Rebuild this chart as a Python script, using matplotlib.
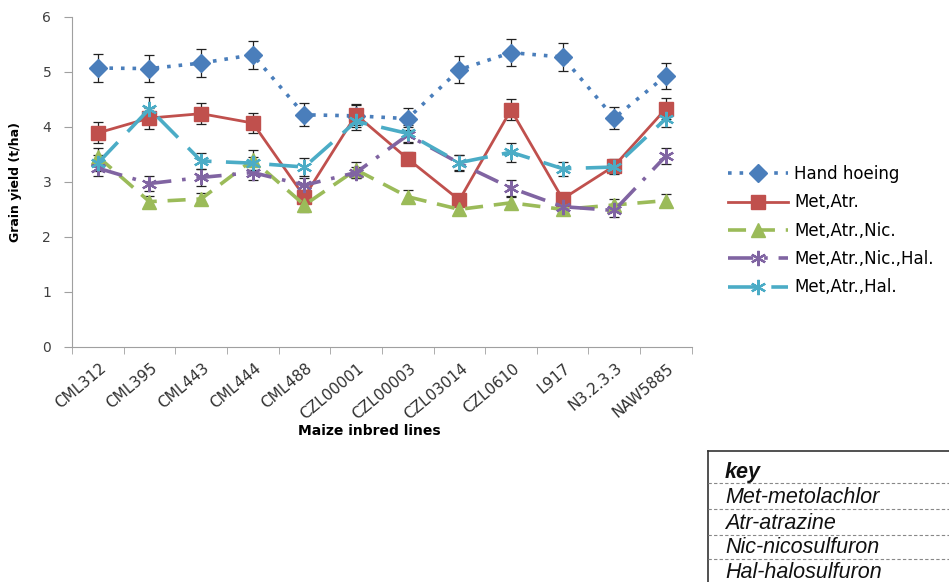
import matplotlib.pyplot as plt
import matplotlib.transforms as mtransforms
from matplotlib.lines import Line2D
import numpy as np

plt.rcParams['font.family'] = ['DejaVu Sans']

# inbred lines and mean grain yield (t/ha) for each weed control treatment
lines = ["CML312", "CML395", "CML443", "CML444", "CML488", "CZL00001",
         "CZL00003", "CZL03014", "CZL0610", "L917", "N3.2.3.3", "NAW5885"]

hand_hoeing = [5.07, 5.06, 5.16, 5.31, 4.22, 4.20, 4.15, 5.04, 5.35, 5.27, 4.16, 4.93]
met_atr = [3.89, 4.16, 4.24, 4.07, 2.73, 4.22, 3.42, 2.67, 4.31, 2.69, 3.29, 4.33]
met_atr_nic = [3.46, 2.64, 2.69, 3.40, 2.58, 3.22, 2.73, 2.50, 2.62, 2.50, 2.58, 2.66]
met_atr_nic_hal = [3.25, 2.97, 3.08, 3.17, 2.94, 3.17, 3.85, 3.34, 2.89, 2.55, 2.48, 3.47]
met_atr_hal = [3.34, 4.33, 3.38, 3.34, 3.27, 4.10, 3.88, 3.35, 3.54, 3.24, 3.27, 4.15]

# standard errors
se_hand = [0.25, 0.25, 0.25, 0.26, 0.21, 0.20, 0.20, 0.25, 0.25, 0.26, 0.20, 0.24]
se_ma = [0.19, 0.19, 0.19, 0.19, 0.12, 0.19, 0.12, 0.10, 0.19, 0.10, 0.12, 0.19]
se_man = [0.15, 0.10, 0.10, 0.18, 0.12, 0.15, 0.12, 0.08, 0.10, 0.08, 0.10, 0.12]
se_manh = [0.15, 0.14, 0.15, 0.14, 0.13, 0.10, 0.15, 0.14, 0.15, 0.10, 0.12, 0.15]
se_mah = [0.15, 0.22, 0.15, 0.12, 0.16, 0.15, 0.15, 0.14, 0.17, 0.13, 0.12, 0.16]

labels = ["Hand hoeing", "Met,Atr.", "Met,Atr.,Nic.", "Met,Atr.,Nic.,Hal.", "Met,Atr.,Hal."]
colors = ["#4A7EBB", "#C0504D", "#9BBB59", "#8064A2", "#4BACC6"]

fig = plt.figure(figsize=(9.49, 5.82), dpi=100)
ax = fig.add_axes([0.0759, 0.404, 0.653, 0.567])

x = np.arange(len(lines))
asterisk = (6, 2, 0)
series = [
    (hand_hoeing, se_hand, dict(marker="D", ms=9, ls=(0, (1, 2.2)), lw=2.6)),
    (met_atr, se_ma, dict(marker="s", ms=10, ls="-", lw=2.0)),
    (met_atr_nic, se_man, dict(marker="^", ms=10, ls=(0, (5, 3)), lw=2.6)),
    (met_atr_nic_hal, se_manh, dict(marker=asterisk, ms=11, mew=1.6, ls=(0, (7, 3, 1, 3)), lw=2.6)),
    (met_atr_hal, se_mah, dict(marker=asterisk, ms=11, mew=1.6, ls=(0, (8, 4)), lw=2.6)),
]

handles = []
for (vals, err, style), lab, col in zip(series, labels, colors):
    ax.errorbar(x, vals, yerr=err, fmt="none", ecolor="#222222", elinewidth=0.9,
                capsize=3.5, capthick=0.9, zorder=2)
    h, = ax.plot(x, vals, color=col, mec=col, mfc=col, label=lab, zorder=3, **style)
    handles.append(h)

ax.set_xlim(-0.5, len(lines) - 0.5)
ax.set_ylim(0, 6)
ax.set_yticks(range(7))
ax.tick_params(axis="y", labelsize=10, colors="#404040", length=6, color="#A0A0A0", pad=9)
ax.set_xticks(x)
ax.set_xticklabels(lines, rotation=40, ha="right", va="center", rotation_mode="anchor",
                   fontsize=11, color="#303030")
ax.tick_params(axis="x", which="major", length=0, pad=14)
shift = mtransforms.ScaledTranslation(6 / 100, 0, fig.dpi_scale_trans)
for lbl in ax.get_xticklabels():
    lbl.set_transform(lbl.get_transform() + shift)
ax.set_xticks(np.arange(-0.5, len(lines) + 0.5, 1), minor=True)
ax.tick_params(axis="x", which="minor", length=5, color="#A0A0A0")
for side in ("top", "right"):
    ax.spines[side].set_visible(False)
for side in ("left", "bottom"):
    ax.spines[side].set_color("#A0A0A0")

ax.set_ylabel("Grain yield (t/ha)", fontsize=9, fontweight="bold")
ax.yaxis.set_label_coords(-0.08, 0.5)
ax.set_xlabel("Maize inbred lines", fontsize=10, fontweight="bold")
ax.xaxis.set_label_coords(0.48, -0.235)

fig.legend(handles=handles, loc="upper left", bbox_to_anchor=(0.751, 0.742),
           frameon=False, fontsize=12, handlelength=3.6, labelspacing=0.62,
           handletextpad=0.4, borderpad=0.4)

# abbreviation key table in the bottom right corner
W, H = 949, 582
left, top = 708 / W, 1 - 451 / H
rows = ["key", "Met-metolachlor", "Atr-atrazine", "Nic-nicosulfuron", "Hal-halosulfuron"]
baselines = [478, 503, 529, 553, 578]
separators = [483, 509, 535, 559]
fig.add_artist(Line2D([left, 1.0], [top, top], color="#333333", lw=1.2))
fig.add_artist(Line2D([left, left], [top, 0.0], color="#333333", lw=1.2))
for i, (txt, yb) in enumerate(zip(rows, baselines)):
    fig.text(725 / W, 1 - yb / H, txt, fontsize=15.5, style="italic",
             fontweight="bold" if i == 0 else "normal", va="baseline",
             family=["Liberation Sans", "DejaVu Sans"], color="#111111")
for ys in separators:
    fig.add_artist(Line2D([left, 1.0], [1 - ys / H, 1 - ys / H], color="#888888",
                          lw=0.8, ls=(0, (3, 2))))

fig.savefig("out.png", dpi=100)
